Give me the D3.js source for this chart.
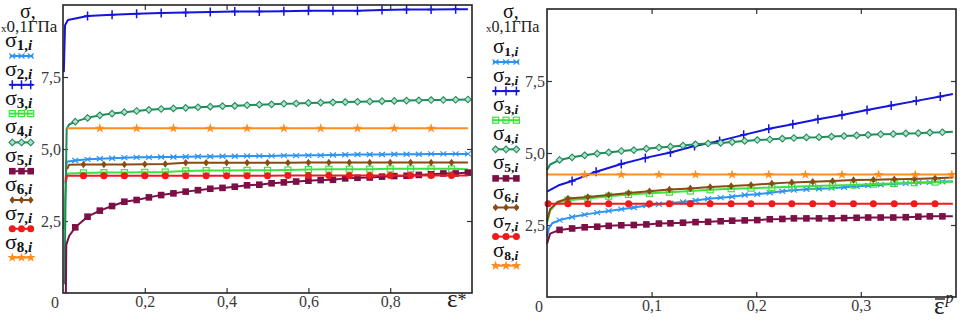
<!DOCTYPE html>
<html>
<head>
<meta charset="utf-8">
<script src="https://cdn.jsdelivr.net/npm/d3@7"></script>
<style>
  body { margin: 0; background: #fff; }
  svg text { font-family: "Liberation Serif", "Times New Roman", serif; }
</style>
</head>
<body>
<svg id="chart" width="962" height="321"></svg>
<script>
// ---- data (stress, x0.1 GPa) ----
const Y_TICKS = [2.5, 5, 7.5];
const X_TICKS_L = [0.2, 0.4, 0.6, 0.8];
const X_TICKS_R = [0.1, 0.2, 0.3];
const SERIES_IDX = ["1", "2", "3", "4", "5", "6", "7", "8"];

// strain grids, left panel (eps*)
const EPS_L03 = [0.03, 0.06, 0.09, 0.12, 0.15, 0.18, 0.21, 0.24, 0.27, 0.30, 0.33, 0.36, 0.39, 0.42, 0.45, 0.48, 0.51,
  0.54, 0.57, 0.60, 0.63, 0.66, 0.69, 0.72, 0.75, 0.78, 0.81, 0.84, 0.87, 0.90, 0.93, 0.96, 0.99];
const EPS_L05 = [0.05, 0.10, 0.15, 0.20, 0.25, 0.30, 0.35, 0.40, 0.45, 0.50, 0.55, 0.60, 0.65, 0.70, 0.75, 0.80, 0.85, 0.90, 0.95];
const EPS_L06 = [0.06, 0.12, 0.18, 0.24, 0.30, 0.36, 0.42, 0.48, 0.54, 0.60, 0.66, 0.72, 0.78, 0.84, 0.90, 0.96];
const EPS_L09 = [0.09, 0.18, 0.27, 0.36, 0.45, 0.54, 0.63, 0.72, 0.81, 0.90];

// strain grids, right panel (eps^p)
const EPS_R12 = [0.012, 0.024, 0.036, 0.048, 0.059, 0.071, 0.083, 0.095, 0.107, 0.118, 0.130, 0.142, 0.154, 0.166, 0.177, 0.189,
  0.201, 0.213, 0.225, 0.236, 0.248, 0.260, 0.272, 0.284, 0.296, 0.307, 0.319, 0.331, 0.343, 0.355, 0.366, 0.378];
const EPS_R20 = [0.020, 0.039, 0.059, 0.078, 0.098, 0.117, 0.137, 0.156, 0.176, 0.195, 0.215, 0.234, 0.254, 0.273, 0.293,
  0.312, 0.332, 0.351, 0.371];
const EPS_R24 = [0.024, 0.047, 0.071, 0.094, 0.118, 0.141, 0.165, 0.188, 0.212, 0.235, 0.259, 0.282, 0.306, 0.329, 0.353, 0.376];
const EPS_R35 = [0.036, 0.071, 0.107, 0.142, 0.177, 0.212, 0.247, 0.282, 0.317, 0.352, 0.387];

// left panel series
const L_X1 = [0.006, 0.009, ...EPS_L03];
const L_Y1 = [3.8, 4.56, 4.6, 4.64, 4.66, 4.68, 4.7, 4.71, 4.71, 4.72, 4.72, 4.73, 4.74, 4.74, 4.75, 4.75, 4.76, 4.76, 4.76,
  4.77, 4.77, 4.78, 4.78, 4.79, 4.8, 4.81, 4.81, 4.81, 4.82, 4.82, 4.82, 4.83, 4.83, 4.83, 4.83];
const L_X2 = [0.002, 0.005, 0.012, ...EPS_L06, 0.99];
const L_Y2 = [7.67, 9.3, 9.48, 9.62, 9.66, 9.7, 9.72, 9.74, 9.76, 9.77, 9.77, 9.78, 9.8, 9.8, 9.8, 9.83, 9.84, 9.84, 9.85, 9.85];
const L_X3 = [0.002, 0.007, 0.012, ...EPS_L05, 0.99];
const L_Y3 = [2.2, 3.9, 4.15, 4.17, 4.18, 4.18, 4.19, 4.2, 4.24, 4.25, 4.25, 4.26, 4.26, 4.27, 4.29, 4.3, 4.3, 4.3, 4.31, 4.31,
  4.31, 4.31, 4.3];
const L_X4 = [0.004, 0.006, 0.009, 0.015, ...EPS_L03];
const L_Y4 = [0.3, 3.0, 5.7, 5.85, 5.95, 6.08, 6.17, 6.23, 6.28, 6.32, 6.36, 6.39, 6.41, 6.43, 6.45, 6.47, 6.49, 6.5, 6.52,
  6.54, 6.55, 6.57, 6.58, 6.6, 6.61, 6.62, 6.63, 6.64, 6.65, 6.66, 6.67, 6.68, 6.69, 6.7, 6.7, 6.71, 6.72];
const L_X5 = [0.007, 0.008, 0.015, ...EPS_L03];
const L_Y5 = [0, 1.67, 1.98, 2.28, 2.65, 2.86, 3.02, 3.17, 3.23, 3.32, 3.4, 3.46, 3.52, 3.57, 3.62, 3.65, 3.69, 3.74, 3.76,
  3.81, 3.84, 3.87, 3.9, 3.92, 3.93, 3.98, 4.0, 4.01, 4.04, 4.06, 4.07, 4.1, 4.12, 4.15, 4.15, 4.18];
const L_X6 = [0.01, 0.015, ...EPS_L05, 0.99];
const L_Y6 = [4.3, 4.45, 4.46, 4.46, 4.46, 4.47, 4.48, 4.52, 4.52, 4.52, 4.52, 4.52, 4.52, 4.53, 4.53, 4.53, 4.53, 4.53, 4.53,
  4.53, 4.53, 4.53];
const L_X7 = [0.007, 0.009, ...EPS_L05, 0.99];
const L_Y7 = [3.85, 4.07, 4.07, 4.07, 4.07, 4.07, 4.07, 4.07, 4.07, 4.07, 4.07, 4.07, 4.08, 4.08, 4.08, 4.08, 4.08, 4.08, 4.08,
  4.08, 4.08, 4.08];
const L_X8 = [0.009, ...EPS_L09, 0.99];
const L_Y8 = [5.72, 5.72, 5.72, 5.72, 5.72, 5.72, 5.72, 5.72, 5.72, 5.72, 5.72, 5.72];

// right panel series
const R_X1 = [0, 0.002, 0.005, ...EPS_R12, 0.388];
const R_Y1 = [2.1, 2.4, 2.56, 2.67, 2.78, 2.86, 2.93, 2.99, 3.05, 3.11, 3.18, 3.22, 3.26, 3.3, 3.35, 3.41, 3.45, 3.48, 3.54,
  3.57, 3.62, 3.67, 3.71, 3.74, 3.76, 3.78, 3.81, 3.84, 3.87, 3.9, 3.92, 3.95, 3.97, 3.98, 4.0, 4.02];
const R_X2 = [0, 0.012, ...EPS_R24, 0.388];
const R_Y2 = [3.66, 3.89, 4.03, 4.35, 4.62, 4.83, 5.02, 5.24, 5.42, 5.63, 5.84, 6.0, 6.17, 6.32, 6.49, 6.65, 6.81, 6.96, 7.05];
const R_X3 = [0, 0.003, 0.01, ...EPS_R20, 0.388];
const R_Y3 = [2.55, 3.0, 3.28, 3.36, 3.42, 3.5, 3.56, 3.6, 3.64, 3.68, 3.72, 3.76, 3.78, 3.8, 3.83, 3.85, 3.87, 3.89, 3.92,
  3.94, 3.97, 3.99, 4.0];
const R_X4 = [0, 0.003, ...EPS_R12, 0.388];
const R_Y4 = [4.41, 4.6, 4.76, 4.85, 4.92, 4.98, 5.02, 5.07, 5.1, 5.15, 5.19, 5.22, 5.26, 5.3, 5.33, 5.35, 5.38, 5.42, 5.45,
  5.47, 5.5, 5.52, 5.54, 5.55, 5.57, 5.59, 5.61, 5.63, 5.65, 5.66, 5.68, 5.69, 5.71, 5.72, 5.74];
const R_X5 = [0, 0.003, ...EPS_R12, 0.388];
const R_Y5 = [1.85, 2.2, 2.33, 2.38, 2.42, 2.44, 2.47, 2.49, 2.5, 2.52, 2.55, 2.56, 2.58, 2.6, 2.61, 2.63, 2.65, 2.66, 2.67,
  2.7, 2.71, 2.73, 2.73, 2.73, 2.73, 2.74, 2.75, 2.76, 2.76, 2.76, 2.77, 2.79, 2.8, 2.8, 2.8];
const R_X6 = [0, 0.003, 0.01, ...EPS_R20, 0.388];
const R_Y6 = [2.65, 3.05, 3.3, 3.42, 3.47, 3.54, 3.61, 3.67, 3.73, 3.77, 3.82, 3.85, 3.89, 3.94, 3.98, 4.0, 4.03, 4.06, 4.07,
  4.09, 4.1, 4.12, 4.15];
const R_X7 = [0.001, ...EPS_R20, 0.388];
const R_Y7 = [3.24, 3.24, 3.24, 3.24, 3.24, 3.24, 3.24, 3.24, 3.24, 3.24, 3.24, 3.24, 3.24, 3.24, 3.24, 3.24, 3.24, 3.24,
  3.24, 3.24, 3.24];
const R_X8 = [0, ...EPS_R35];
const R_Y8 = [4.25, 4.25, 4.25, 4.25, 4.25, 4.25, 4.25, 4.25, 4.25, 4.25, 4.25, 4.25];

// ---- styles ----
const FONT = '"Liberation Serif", "Times New Roman", serif';
const COLORS = ["#2b93f3", "#1414dc", "#3ee23e", "#1f8c5c", "#7c1046", "#8a4a14", "#f01a1a", "#ff8c1e"];
const MARKS = ["times", "plus", "squareOpen", "diamondOpen", "squareFill", "diamondFill", "circle", "star"];
// unmarked points at start / end of each series
const LEAD_L = [2, 3, 3, 4, 3, 2, 2, 1], TAIL_L = [0, 1, 1, 0, 0, 1, 1, 1];
const LEAD_R = [3, 2, 3, 2, 2, 3, 0, 1], TAIL_R = [1, 1, 1, 1, 1, 1, 1, 0];

const svg = d3.select("#chart");
svg.append("rect").attr("width", 962).attr("height", 321).attr("fill", "#fff");

const fmt = d3.formatLocale({ decimal: ",", thousands: " ", grouping: [3], currency: ["", ""] }).format(".1f");

function marker(g, kind, color, x, y) {
  const m = g.append("g").attr("transform", `translate(${x},${y})`);
  if (kind === "times") {
    m.append("path").attr("d", "M-3,-2.5L3,2.5M-3,2.5L3,-2.5").attr("stroke", color).attr("stroke-width", 1.2).attr("fill", "none");
  } else if (kind === "plus") {
    m.append("path").attr("d", "M0,-4.5V4.5M-3.5,0H3.5").attr("stroke", color).attr("stroke-width", 1.5).attr("fill", "none");
  } else if (kind === "squareOpen") {
    m.append("rect").attr("x", -3).attr("y", -3).attr("width", 6).attr("height", 6)
      .attr("fill", "none").attr("stroke", color).attr("stroke-width", 1.2);
  } else if (kind === "diamondOpen") {
    m.append("path").attr("d", "M0,-3.3L3.3,0L0,3.3L-3.3,0Z").attr("fill", "#b5e0c8").attr("stroke", color).attr("stroke-width", 1.1);
  } else if (kind === "squareFill") {
    m.append("rect").attr("x", -3.3).attr("y", -3.3).attr("width", 6.6).attr("height", 6.6).attr("fill", color);
  } else if (kind === "diamondFill") {
    m.append("path").attr("d", "M0,-3.8L2.8,0L0,3.8L-2.8,0Z").attr("fill", color);
  } else if (kind === "circle") {
    m.append("circle").attr("r", 3.5).attr("fill", color);
  } else if (kind === "star") {
    m.append("path").attr("d", d3.symbol(d3.symbolStar, 30)()).attr("fill", color);
  }
}

const PANELS = [
  {
    left: 63, right: 472, top: 5, bottom: 293, xMax: 1, xTicks: X_TICKS_L,
    xs: [L_X1, L_X2, L_X3, L_X4, L_X5, L_X6, L_X7, L_X8],
    ys: [L_Y1, L_Y2, L_Y3, L_Y4, L_Y5, L_Y6, L_Y7, L_Y8],
    lead: LEAD_L, tail: TAIL_L,
    legX: 10, legW: 23, legTop: 56, legStep: 28.8, labX: 5, sigSize: 22, subSize: 15,
    sigmaX: 20, unitX: 1, unitSize: 17
  },
  {
    left: 547, right: 956, top: 9, bottom: 297, xMax: 0.391, xTicks: X_TICKS_R,
    xs: [R_X1, R_X2, R_X3, R_X4, R_X5, R_X6, R_X7, R_X8],
    ys: [R_Y1, R_Y2, R_Y3, R_Y4, R_Y5, R_Y6, R_Y7, R_Y8],
    lead: LEAD_R, tail: TAIL_R,
    legX: 493, legW: 26, legTop: 62, legStep: 29.1, labX: 493, sigSize: 21, subSize: 13.5,
    sigmaX: 503, unitX: 486, unitSize: 16
  }
];

PANELS.forEach((p, pi) => {
  const x = d3.scaleLinear().domain([0, p.xMax]).range([p.left, p.right]);
  const y = d3.scaleLinear().domain([0, 10]).range([p.bottom, p.top]);
  const g = svg.append("g");

  // axes with inward ticks
  g.append("g").attr("transform", `translate(0,${p.bottom})`)
    .call(d3.axisBottom(x).tickValues(p.xTicks).tickFormat(fmt).tickSize(-5).tickPadding(3));
  g.append("g").attr("transform", `translate(0,${p.top})`)
    .call(d3.axisTop(x).tickValues(p.xTicks).tickFormat("").tickSize(-5));
  g.append("g").attr("transform", `translate(${p.left},0)`)
    .call(d3.axisLeft(y).tickValues(Y_TICKS).tickFormat(fmt).tickSize(-5).tickPadding(2));
  g.append("g").attr("transform", `translate(${p.right},0)`)
    .call(d3.axisRight(y).tickValues(Y_TICKS).tickFormat("").tickSize(-5));
  g.selectAll(".domain").remove();
  g.selectAll("g").attr("font-family", FONT);
  g.selectAll(".tick line").attr("stroke", "#333").attr("stroke-width", 1.2);
  g.selectAll(".tick text").attr("fill", "#3a3a3a").attr("font-size", 16).attr("font-family", FONT);
  g.append("text").attr("x", p.left - 8).attr("y", p.bottom + 15).attr("text-anchor", "middle")
    .attr("font-family", FONT).attr("font-size", 16).attr("fill", "#3a3a3a").text("0");

  // curves
  SERIES_IDX.forEach((s, i) => {
    const pts = p.xs[i].map((v, k) => [v, p.ys[i][k]]);
    g.append("path")
      .attr("d", d3.line().x((d) => x(d[0])).y((d) => y(d[1]))(pts))
      .attr("fill", "none").attr("stroke", COLORS[i]).attr("stroke-width", 2)
      .attr("stroke-linejoin", "round");
    const mg = g.append("g");
    pts.slice(p.lead[i], pts.length - p.tail[i]).forEach((d) => marker(mg, MARKS[i], COLORS[i], x(d[0]), y(d[1])));
  });

  // frame
  g.append("rect").attr("x", p.left).attr("y", p.top)
    .attr("width", p.right - p.left).attr("height", p.bottom - p.top)
    .attr("fill", "none").attr("stroke", "#222").attr("stroke-width", 1.6);

  // legend
  SERIES_IDX.forEach((s, i) => {
    const ly = p.legTop + i * p.legStep;
    const t = g.append("text").attr("x", p.labX).attr("y", ly - 9).attr("fill", "#111").attr("font-family", FONT);
    t.append("tspan").attr("font-size", p.sigSize).text("σ");
    t.append("tspan").attr("font-size", p.subSize).attr("font-weight", "bold").attr("dy", 3).text(s + ",");
    t.append("tspan").attr("font-size", p.subSize).attr("font-weight", "bold").attr("font-style", "italic").text("i");
    g.append("line").attr("x1", p.legX).attr("x2", p.legX + p.legW).attr("y1", ly).attr("y2", ly)
      .attr("stroke", COLORS[i]).attr("stroke-width", 2);
    [0.1, 0.5, 0.9].forEach((f) => marker(g, MARKS[i], COLORS[i], p.legX + f * p.legW, ly));
  });

  // axis unit label
  g.append("text").attr("x", p.sigmaX).attr("y", 18).attr("font-family", FONT)
    .attr("font-size", 20).attr("fill", "#111").text("σ,");
  const u = g.append("text").attr("x", p.unitX).attr("y", 32).attr("fill", "#222").attr("font-family", FONT);
  u.append("tspan").attr("font-size", 11).text("x");
  u.append("tspan").attr("font-size", p.unitSize).text("0,1ГПа");

  // x-axis title
  if (pi === 0) {
    const tt = g.append("text").attr("x", 447).attr("y", 307).attr("fill", "#222").attr("font-family", FONT);
    tt.append("tspan").attr("font-size", 25).text("ε");
    tt.append("tspan").attr("font-size", 18).attr("dy", -1).text("*");
  } else {
    const tt = g.append("text").attr("x", 934).attr("y", 314).attr("fill", "#222").attr("font-family", FONT);
    tt.append("tspan").attr("font-size", 25).text("ε");
    tt.append("tspan").attr("font-size", 16).attr("font-style", "italic").attr("dy", -11).attr("dx", 1).text("p");
    g.append("line").attr("x1", 935).attr("x2", 945).attr("y1", 299).attr("y2", 299)
      .attr("stroke", "#222").attr("stroke-width", 1.4);
  }
});
</script>
</body>
</html>
